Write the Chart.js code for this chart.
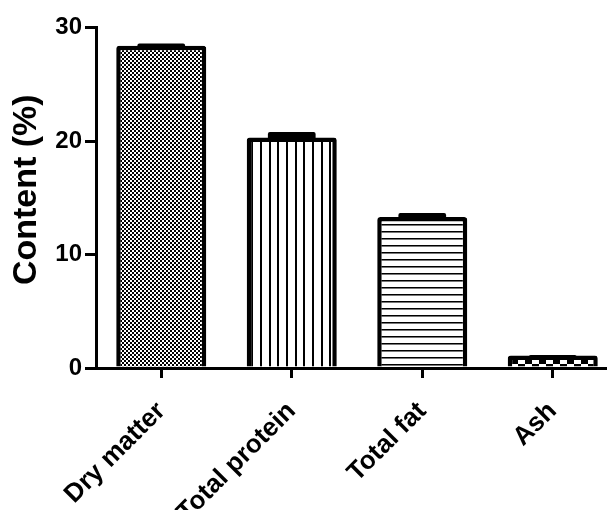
<!DOCTYPE html>
<html><head><meta charset="utf-8">
<script src="https://cdn.jsdelivr.net/npm/chart.js@4"></script>
<style>
html,body{margin:0;padding:0;background:#fff;overflow:hidden;width:607px;height:510px}
#wrap{width:618px;height:510px;position:relative}
</style></head>
<body><div id="wrap"><canvas id="c" width="618" height="510" style="width:618px;height:510px"></canvas></div>
<script>
const categories = ['Dry matter', 'Total protein', 'Total fat', 'Ash'];
const contentValues = [28.4, 20.3, 13.3, 1.1];
const errorValues = [0.2, 0.5, 0.35, 0.05];
const yTickValues = [0, 10, 20, 30];
const yTitle = 'Content (%)';

const FONT = "'Liberation Sans', Arial, Helvetica, sans-serif";
const helper = document.createElement('canvas').getContext('2d');
function makePattern(w, h, draw) {
  const c = document.createElement('canvas');
  c.width = w; c.height = h;
  const x = c.getContext('2d');
  x.fillStyle = '#fff'; x.fillRect(0, 0, w, h);
  x.fillStyle = '#000';
  draw(x, w, h);
  return helper.createPattern(c, 'repeat');
}
const patChecker = makePattern(4, 4, (x) => { x.fillRect(0, 0, 2, 2); x.fillRect(2, 2, 2, 2); });
const patVertical = makePattern(26, 4, (x, w, h) => { x.fillRect(0, 0, 2, h); x.fillRect(9, 0, 2, h); x.fillRect(17, 0, 2, h); });
const patHorizontal = makePattern(4, 7, (x, w) => { x.fillRect(0, 0, w, 1); x.fillStyle = '#777'; x.fillRect(0, 1, w, 1); });
const patBigChecker = makePattern(14, 14, (x) => { x.fillRect(0, 0, 7, 7); x.fillRect(7, 7, 7, 7); });

const errorBarPlugin = {
  id: 'errorBars',
  afterDatasetsDraw(chart) {
    const ctx = chart.ctx;
    const meta = chart.getDatasetMeta(0);
    const ys = chart.scales.y;
    ctx.save();
    ctx.fillStyle = '#000';
    meta.data.forEach((bar, i) => {
      const top = ys.getPixelForValue(contentValues[i] + errorValues[i]);
      const base = ys.getPixelForValue(contentValues[i]);
      const capW = bar.width * 0.53;
      ctx.beginPath();
      if (ctx.roundRect) ctx.roundRect(bar.x - capW / 2, top, capW, base - top + 3, 2);
      else ctx.rect(bar.x - capW / 2, top, capW, base - top + 3);
      ctx.fill();
    });
    ctx.restore();
  }
};

const yTitlePlugin = {
  id: 'yTitle',
  afterDraw(chart) {
    const ctx = chart.ctx;
    const a = chart.chartArea;
    ctx.save();
    ctx.translate(27, (a.top + a.bottom) / 2 - 8);
    ctx.rotate(-Math.PI / 2);
    ctx.fillStyle = '#000';
    ctx.font = 'bold 34px ' + FONT;
    ctx.textAlign = 'center';
    ctx.textBaseline = 'middle';
    ctx.fillText(yTitle, 0, 0);
    ctx.restore();
  }
};

new Chart(document.getElementById('c'), {
  type: 'bar',
  data: {
    labels: categories,
    datasets: [{
      data: contentValues,
      backgroundColor: [patChecker, patVertical, patHorizontal, patBigChecker],
      borderColor: '#000',
      borderWidth: 4.5,
      borderRadius: 3,
      barPercentage: 0.69,
      categoryPercentage: 1.0
    }]
  },
  options: {
    responsive: false,
    animation: false,
    devicePixelRatio: 1,
    layout: { padding: { top: 27.5, left: 0, right: 0, bottom: 0 } },
    plugins: { legend: { display: false }, tooltip: { enabled: false } },
    scales: {
      x: {
        offset: true,
        grid: { offset: false, drawOnChartArea: false, drawTicks: true, tickLength: 10, lineWidth: 3, color: '#000' },
        border: { display: true, width: 3, color: '#000' },
        ticks: {
          autoSkip: false, minRotation: 45, maxRotation: 45, padding: 18,
          color: '#000', font: { family: FONT, size: 26, weight: 'bold' }
        },
        afterFit(s) { s.height = 142; }
      },
      y: {
        min: 0, max: 30,
        afterBuildTicks(s) { s.ticks = yTickValues.map(v => ({ value: v })); },
        grid: { drawOnChartArea: false, drawTicks: true, tickLength: 11, lineWidth: 3, color: '#000' },
        border: { display: true, width: 3, color: '#000' },
        ticks: { padding: 3, color: '#000', font: { family: FONT, size: 24, weight: 'bold' } },
        title: { display: false },
        afterFit(s) { s.width = 96; }
      }
    }
  },
  plugins: [errorBarPlugin, yTitlePlugin]
});
</script>
</body></html>
